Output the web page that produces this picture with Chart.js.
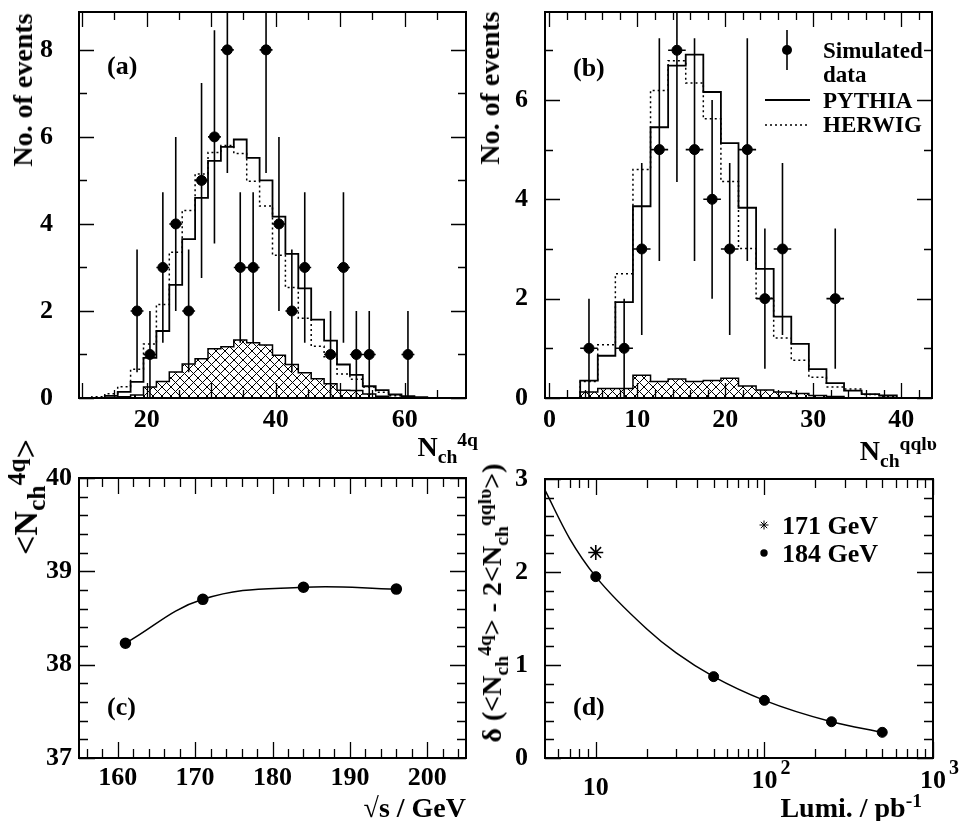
<!DOCTYPE html>
<html lang="en">
<head>
  <meta charset="UTF-8" />
  <title>Charged multiplicity - 4q and qqlv</title>
  <script src="https://cdn.jsdelivr.net/npm/chart.js"></script>
  <style>
    body { margin: 0; background: #fff; font-family: "Liberation Serif", "Times New Roman", serif; font-weight: bold; color: #000; }
    #page { position: relative; width: 964px; height: 821px; overflow: hidden; }
    canvas { position: absolute; }
    .txt { position: absolute; white-space: nowrap; line-height: 1; font-size: 28px; }
    .rot { transform: translate(-50%, -50%) rotate(-90deg); }
    .txt sub, .txt sup { font-size: 0.7em; line-height: 0; }
    .big { font-size: 34px; }
    .big sub, .big sup { font-size: 0.75em; }
    .leg { font-size: 23px; }
    .leg2 { font-size: 26px; }
    .pl { font-size: 26px; }
  </style>
</head>
<body>
<div id="page">
  <canvas id="cA" width="482" height="440" style="left:0;top:0"></canvas>
  <canvas id="cB" width="482" height="440" style="left:482px;top:0"></canvas>
  <canvas id="cC" width="482" height="381" style="left:0;top:440px"></canvas>
  <canvas id="cD" width="482" height="381" style="left:482px;top:440px"></canvas>

  <div class="txt pl" style="left:107px;top:53px">(a)</div>
  <div class="txt pl" style="left:573px;top:55px">(b)</div>
  <div class="txt pl" style="left:107px;top:694px">(c)</div>
  <div class="txt pl" style="left:573px;top:694px">(d)</div>

  <div class="txt rot" style="left:23px;top:90px">No. of events</div>
  <div class="txt rot" style="left:490px;top:88px">No. of events</div>
  <div class="txt" style="right:486px;top:433px">N<sub>ch</sub><sup>4q</sup></div>
  <div class="txt" style="right:27px;top:437px">N<sub>ch</sub><sup>qqlυ</sup></div>

  <div class="txt rot big" style="left:26px;top:497px">&lt;N<sub>ch</sub><sup>4q</sup>&gt;</div>
  <div class="txt" style="right:498px;top:794px">√s / GeV</div>
  <div class="txt rot" style="left:492px;top:603px">δ (&lt;N<sub>ch</sub><sup>4q</sup>&gt; - 2&lt;N<sub>ch</sub><sup>qqlυ</sup>&gt;)</div>
  <div class="txt" style="right:42px;top:794px">Lumi. / pb<sup>-1</sup></div>

  <div class="txt leg" style="left:823px;top:39px">Simulated</div>
  <div class="txt leg" style="left:823px;top:63px">data</div>
  <div class="txt leg" style="left:823px;top:89px">PYTHIA</div>
  <div class="txt leg" style="left:823px;top:113px">HERWIG</div>

  <div class="txt leg2" style="left:782px;top:513px">171 GeV</div>
  <div class="txt leg2" style="left:782px;top:541px">184 GeV</div>
</div>

<script>
// ---- (a) N_ch^4q, 2-unit bins ----
const dataXA = [18.5, 20.5, 22.5, 24.5, 26.5, 28.5, 30.5, 32.5, 34.5, 36.5, 38.5, 40.5, 42.5, 44.5, 48.5, 50.5, 52.5, 54.5, 60.5];
const dataYA = [2, 1, 3, 4, 2, 5, 6, 8, 3, 3, 8, 4, 2, 3, 1, 3, 1, 1, 1];
const errYA  = [1.41, 1, 1.73, 2, 1.41, 2.24, 2.45, 2.83, 1.73, 1.73, 2.83, 2, 1.41, 1.73, 1, 1.73, 1, 1, 1];
const pythiaLoA = 13.5;
const pythiaA = [0.05, 0.14, 0.37, 0.92, 1.54, 2.6, 3.65, 4.6, 5.45, 5.77, 5.94, 5.52, 5.0, 4.17, 3.31, 2.52, 1.8, 1.32, 0.77, 0.53, 0.27, 0.18, 0.08, 0.04, 0.02];
const herwigLoA = 11.5;
const herwigA = [0.03, 0.1, 0.26, 0.66, 1.24, 2.15, 3.35, 4.31, 5.15, 5.64, 5.8, 5.62, 4.98, 4.41, 3.28, 2.54, 1.83, 1.19, 0.95, 0.55, 0.43, 0.25, 0.13, 0.05, 0.02];
const bgLoA = 15.5;
const bgA = [0.03, 0.07, 0.25, 0.38, 0.6, 0.78, 0.9, 1.13, 1.18, 1.33, 1.27, 1.22, 0.98, 0.77, 0.58, 0.44, 0.33, 0.18, 0.17, 0.09, 0.04];
const xLabelsA = [20, 40, 60];
const yLabelsA = [0, 2, 4, 6, 8];

// ---- (b) N_ch^qqlv ----
const dataXB = [4.5, 8.5, 10.5, 12.5, 14.5, 16.5, 18.5, 20.5, 22.5, 24.5, 26.5, 32.5];
const dataYB = [1, 1, 3, 5, 7, 5, 4, 3, 5, 2, 3, 2];
const errYB  = [1, 1, 1.73, 2.24, 2.65, 2.24, 2, 1.73, 2.24, 1.41, 1.73, 1.41];
const pythiaLoB = 3.5;
const pythiaB = [0.35, 0.85, 1.93, 3.86, 5.45, 6.69, 6.91, 6.16, 5.13, 3.83, 2.6, 1.64, 1.09, 0.58, 0.3, 0.15, 0.08, 0.05];
const herwigLoB = 3.5;
const herwigB = [0.33, 1.07, 2.5, 4.6, 6.19, 6.79, 6.34, 5.62, 4.36, 3.01, 2.01, 1.21, 0.76, 0.42, 0.22, 0.18, 0.07, 0.03];
const bgLoB = 3.5;
const bgB = [0.12, 0.19, 0.19, 0.46, 0.33, 0.38, 0.33, 0.35, 0.4, 0.24, 0.16, 0.12, 0.09, 0.05, 0.03];
const xLabelsB = [0, 10, 20, 30, 40];
const yLabelsB = [0, 2, 4, 6];

// ---- (c) <N_ch^4q> vs sqrt(s) ----
const energyC = [161, 171, 184, 196];
const meanC = [38.23, 38.7, 38.83, 38.81];
const xLabelsC = [160, 170, 180, 190, 200];
const yLabelsC = [37, 38, 39, 40];

// ---- (d) delta vs luminosity ----
const lumiD = [10, 50, 100, 250, 500];
const deltaD = [1.95, 0.875, 0.62, 0.39, 0.276];
const lumi171 = [10];
const delta171 = [2.21];
const fitLumiD = [5, 7, 10, 20, 30, 50, 100, 250, 500];
const fitDeltaD = [2.88, 2.36, 1.95, 1.39, 1.13, 0.875, 0.62, 0.39, 0.276];
const xLabelsD = [10, 100, 1000];
const xLabelExpD = ['', '2', '3'];
const yLabelsD = [0, 1, 2, 3];

Chart.defaults.font.family = '"Liberation Serif", serif';
Chart.defaults.font.weight = 'bold';
Chart.defaults.font.size = 26;
Chart.defaults.color = '#000';
Chart.defaults.animation = false;

function pairs(xs, ys) { return xs.map((x, i) => ({x: x, y: ys[i]})); }

function steps(lo, vals) {
  const pts = [{x: lo, y: 0}];
  vals.forEach((v, i) => pts.push({x: lo + 2 * i, y: v}));
  pts.push({x: lo + 2 * vals.length, y: 0});
  return pts;
}

function range(a, b, s) {
  const out = [];
  for (let v = a; v <= b + 1e-9; v += s) out.push(+v.toFixed(4));
  return out;
}

function hatch(ctx) {
  const c = document.createElement('canvas');
  c.width = 9; c.height = 9;
  const g = c.getContext('2d');
  g.strokeStyle = '#000';
  g.lineWidth = 1;
  g.beginPath();
  g.moveTo(0, 0); g.lineTo(9, 9);
  g.moveTo(9, 0); g.lineTo(0, 9);
  g.stroke();
  return ctx.createPattern(c, 'repeat');
}

// inward ticks on all four sides + frame
const frameTicks = {
  id: 'frameTicks',
  afterDraw(chart, args, o) {
    const {ctx, chartArea: a} = chart;
    const x = chart.scales.x, y = chart.scales.y;
    ctx.save();
    ctx.strokeStyle = '#000';
    ctx.lineWidth = 1.3;
    ctx.beginPath();
    const xt = (vals, len) => vals.forEach(v => {
      const p = Math.round(x.getPixelForValue(v)) + 0.5;
      ctx.moveTo(p, a.bottom); ctx.lineTo(p, a.bottom - len);
      ctx.moveTo(p, a.top); ctx.lineTo(p, a.top + len);
    });
    const yt = (vals, len) => vals.forEach(v => {
      const p = Math.round(y.getPixelForValue(v)) + 0.5;
      ctx.moveTo(a.left, p); ctx.lineTo(a.left + len, p);
      ctx.moveTo(a.right, p); ctx.lineTo(a.right - len, p);
    });
    xt(o.xMajor, o.maj); xt(o.xMinor, o.min);
    yt(o.yMajor, o.maj); yt(o.yMinor, o.min);
    ctx.stroke();
    ctx.lineWidth = 2;
    ctx.strokeRect(a.left, a.top, a.right - a.left, a.bottom - a.top);
    ctx.restore();
  }
};

// vertical and horizontal error bars
const errorBars = {
  id: 'errorBars',
  afterDatasetsDraw(chart) {
    const {ctx, chartArea: a} = chart;
    const x = chart.scales.x, y = chart.scales.y;
    ctx.save();
    ctx.beginPath();
    ctx.rect(a.left, a.top, a.right - a.left, a.bottom - a.top);
    ctx.clip();
    ctx.strokeStyle = '#000';
    ctx.lineWidth = 1.6;
    ctx.beginPath();
    chart.data.datasets.forEach(ds => {
      if (!ds.errY) return;
      ds.data.forEach((p, i) => {
        const px = x.getPixelForValue(p.x), py = y.getPixelForValue(p.y);
        ctx.moveTo(px, y.getPixelForValue(p.y - ds.errY[i]));
        ctx.lineTo(px, y.getPixelForValue(p.y + ds.errY[i]));
        ctx.moveTo(x.getPixelForValue(p.x - ds.errX), py);
        ctx.lineTo(x.getPixelForValue(p.x + ds.errX), py);
      });
    });
    ctx.stroke();
    ctx.restore();
  }
};

Chart.register(frameTicks, errorBars);

function fixTicks(vals) {
  return s => { s.ticks = vals.map(v => ({value: v})); };
}
// fixed axis sizes, no automatic label padding
function fixH(h) {
  return s => { s.height = h; s.paddingLeft = 0; s.paddingRight = 0; s.paddingTop = 0; s.paddingBottom = 0; };
}
function fixW(w) {
  return s => { s.width = w; s.paddingLeft = 0; s.paddingRight = 0; s.paddingTop = 0; s.paddingBottom = 0; };
}
const noGrid = {display: false, drawTicks: false};

function histChart(id, o) {
  const ctx = document.getElementById(id).getContext('2d');
  return new Chart(ctx, {
    type: 'scatter',
    data: {
      datasets: [
        {
          data: pairs(o.dx, o.dy), errY: o.err, errX: 1,
          pointRadius: 5, pointBackgroundColor: '#000', pointBorderColor: '#000', order: 0
        },
        {
          type: 'line', data: steps(o.pLo, o.p), stepped: true, showLine: true,
          borderColor: '#000', borderWidth: 1.8, pointRadius: 0, fill: false, order: 1
        },
        {
          type: 'line', data: steps(o.hLo, o.h), stepped: true, showLine: true,
          borderColor: '#000', borderWidth: 1.5, borderDash: [2, 3], pointRadius: 0, fill: false, order: 2
        },
        {
          type: 'line', data: steps(o.bLo, o.b), stepped: true, showLine: true,
          borderColor: '#000', borderWidth: 1.5, backgroundColor: hatch(ctx), pointRadius: 0,
          fill: 'origin', order: 3
        }
      ]
    },
    options: {
      responsive: false,
      layout: {padding: {top: o.padTop, right: o.padRight, left: 0, bottom: 0}},
      plugins: {
        legend: {display: false},
        tooltip: {enabled: false},
        frameTicks: {xMajor: o.xMajor, xMinor: o.xMinor, yMajor: o.yMajor, yMinor: o.yMinor, maj: 15, min: 8}
      },
      scales: {
        x: {
          type: 'linear', min: o.xMin, max: o.xMax,
          grid: noGrid, border: {display: false},
          afterBuildTicks: fixTicks(o.xLabels),
          afterFit: fixH(o.xH),
          ticks: {padding: o.xPad, maxRotation: 0}
        },
        y: {
          type: 'linear', min: 0, max: o.yMax,
          grid: noGrid, border: {display: false},
          afterBuildTicks: fixTicks(o.yLabels),
          afterFit: fixW(o.yW),
          ticks: {padding: o.yPad}
        }
      }
    },
    plugins: o.extra ? [o.extra] : []
  });
}

// (a)
histChart('cA', {
  dx: dataXA, dy: dataYA, err: errYA,
  pLo: pythiaLoA, p: pythiaA, hLo: herwigLoA, h: herwigA, bLo: bgLoA, b: bgA,
  xMin: 9.5, xMax: 69.5, yMax: 8.87, xLabels: xLabelsA, yLabels: yLabelsA,
  xMajor: range(10, 60, 10), xMinor: range(15, 65, 10),
  yMajor: yLabelsA, yMinor: [1, 3, 5, 7],
  padTop: 12, padRight: 16, xH: 42, yW: 79, xPad: 7, yPad: 26
});

// (b) with legend keys
const legendB = {
  id: 'legendB',
  afterDraw(chart) {
    const ctx = chart.ctx;
    ctx.save();
    ctx.strokeStyle = '#000'; ctx.fillStyle = '#000';
    ctx.lineWidth = 1.6;
    ctx.beginPath(); ctx.moveTo(305, 30); ctx.lineTo(305, 70); ctx.stroke();
    ctx.beginPath(); ctx.arc(305, 50, 5, 0, Math.PI * 2); ctx.fill();
    ctx.lineWidth = 1.8;
    ctx.beginPath(); ctx.moveTo(283, 100); ctx.lineTo(328, 100); ctx.stroke();
    ctx.lineWidth = 1.5; ctx.setLineDash([2, 3]);
    ctx.beginPath(); ctx.moveTo(283, 125); ctx.lineTo(328, 125); ctx.stroke();
    ctx.restore();
  }
};
histChart('cB', {
  dx: dataXB, dy: dataYB, err: errYB,
  pLo: pythiaLoB, p: pythiaB, hLo: herwigLoB, h: herwigB, bLo: bgLoB, b: bgB,
  xMin: -0.5, xMax: 43.5, yMax: 7.77, xLabels: xLabelsB, yLabels: yLabelsB,
  xMajor: range(0, 40, 10), xMinor: range(2, 42, 2).filter(v => v % 10 !== 0),
  yMajor: yLabelsB, yMinor: [1, 3, 5, 7],
  padTop: 12, padRight: 32, xH: 42, yW: 63, xPad: 7, yPad: 17,
  extra: legendB
});

// (c)
new Chart(document.getElementById('cC'), {
  type: 'scatter',
  data: {
    datasets: [{
      data: pairs(energyC, meanC), showLine: true, tension: 0.4,
      borderColor: '#000', borderWidth: 1.5,
      pointRadius: 5, pointBackgroundColor: '#000', pointBorderColor: '#000'
    }]
  },
  options: {
    responsive: false,
    layout: {padding: {top: 38, right: 16, left: 0, bottom: 0}},
    plugins: {
      legend: {display: false}, tooltip: {enabled: false},
      frameTicks: {
        xMajor: xLabelsC, xMinor: range(156, 204, 2).filter(v => v % 10 !== 0),
        yMajor: yLabelsC, yMinor: range(37.2, 39.8, 0.2).filter(v => Math.abs(v - Math.round(v)) > 0.01),
        maj: 16, min: 9
      }
    },
    scales: {
      x: {
        type: 'linear', min: 155, max: 205,
        grid: noGrid, border: {display: false},
        afterBuildTicks: fixTicks(xLabelsC),
        afterFit: fixH(63),
        ticks: {padding: 5, maxRotation: 0}
      },
      y: {
        type: 'linear', min: 37, max: 40,
        grid: noGrid, border: {display: false},
        afterBuildTicks: fixTicks(yLabelsC),
        afterFit: fixW(79),
        ticks: {padding: 7}
      }
    }
  }
});

// (d)
const minorLog = [6, 7, 8, 9, 20, 30, 40, 50, 60, 70, 80, 90, 200, 300, 400, 500, 600, 700, 800, 900];
const extraD = {
  id: 'extraD',
  afterDraw(chart) {
    const ctx = chart.ctx, x = chart.scales.x;
    ctx.save();
    ctx.fillStyle = '#000'; ctx.strokeStyle = '#000';
    ctx.textAlign = 'center'; ctx.textBaseline = 'alphabetic';
    xLabelsD.forEach((v, i) => {
      const p = x.getPixelForValue(v);
      const exp = xLabelExpD[i];
      ctx.font = 'bold 26px "Liberation Serif"';
      ctx.fillText('10', p, exp ? 348 : 355);
      if (exp) {
        ctx.textAlign = 'left';
        ctx.font = 'bold 20px "Liberation Serif"';
        ctx.fillText(exp, p + 16, 334);
        ctx.textAlign = 'center';
      }
    });
    // legend keys
    Chart.helpers.drawPoint(ctx, {pointStyle: 'star', radius: 4.5, borderWidth: 1.5}, 282, 85);
    ctx.beginPath(); ctx.arc(282, 113, 3.7, 0, Math.PI * 2); ctx.fill();
    ctx.restore();
  }
};
new Chart(document.getElementById('cD'), {
  type: 'scatter',
  data: {
    datasets: [
      {
        data: pairs(lumiD, deltaD), pointRadius: 5,
        pointBackgroundColor: '#000', pointBorderColor: '#000', order: 0
      },
      {
        data: pairs(lumi171, delta171), pointStyle: 'star', pointRadius: 7.5, pointBorderWidth: 1.6,
        pointBorderColor: '#000', order: 1
      },
      {
        data: pairs(fitLumiD, fitDeltaD), showLine: true, cubicInterpolationMode: 'monotone',
        borderColor: '#000', borderWidth: 1.5, pointRadius: 0, order: 2
      }
    ]
  },
  options: {
    responsive: false,
    layout: {padding: {top: 39, right: 31, left: 0, bottom: 0}},
    plugins: {
      legend: {display: false}, tooltip: {enabled: false},
      frameTicks: {
        xMajor: xLabelsD, xMinor: minorLog,
        yMajor: yLabelsD, yMinor: range(0.2, 2.8, 0.2).filter(v => Math.abs(v - Math.round(v)) > 0.01),
        maj: 16, min: 9
      }
    },
    scales: {
      x: {
        type: 'logarithmic', min: 5, max: 1000,
        grid: noGrid, border: {display: false},
        afterBuildTicks: fixTicks(xLabelsD),
        afterFit: fixH(63),
        ticks: {display: false}
      },
      y: {
        type: 'linear', min: 0, max: 3,
        grid: noGrid, border: {display: false},
        afterBuildTicks: fixTicks(yLabelsD),
        afterFit: fixW(63),
        ticks: {padding: 17}
      }
    }
  },
  plugins: [extraD]
});
</script>
</body>
</html>
